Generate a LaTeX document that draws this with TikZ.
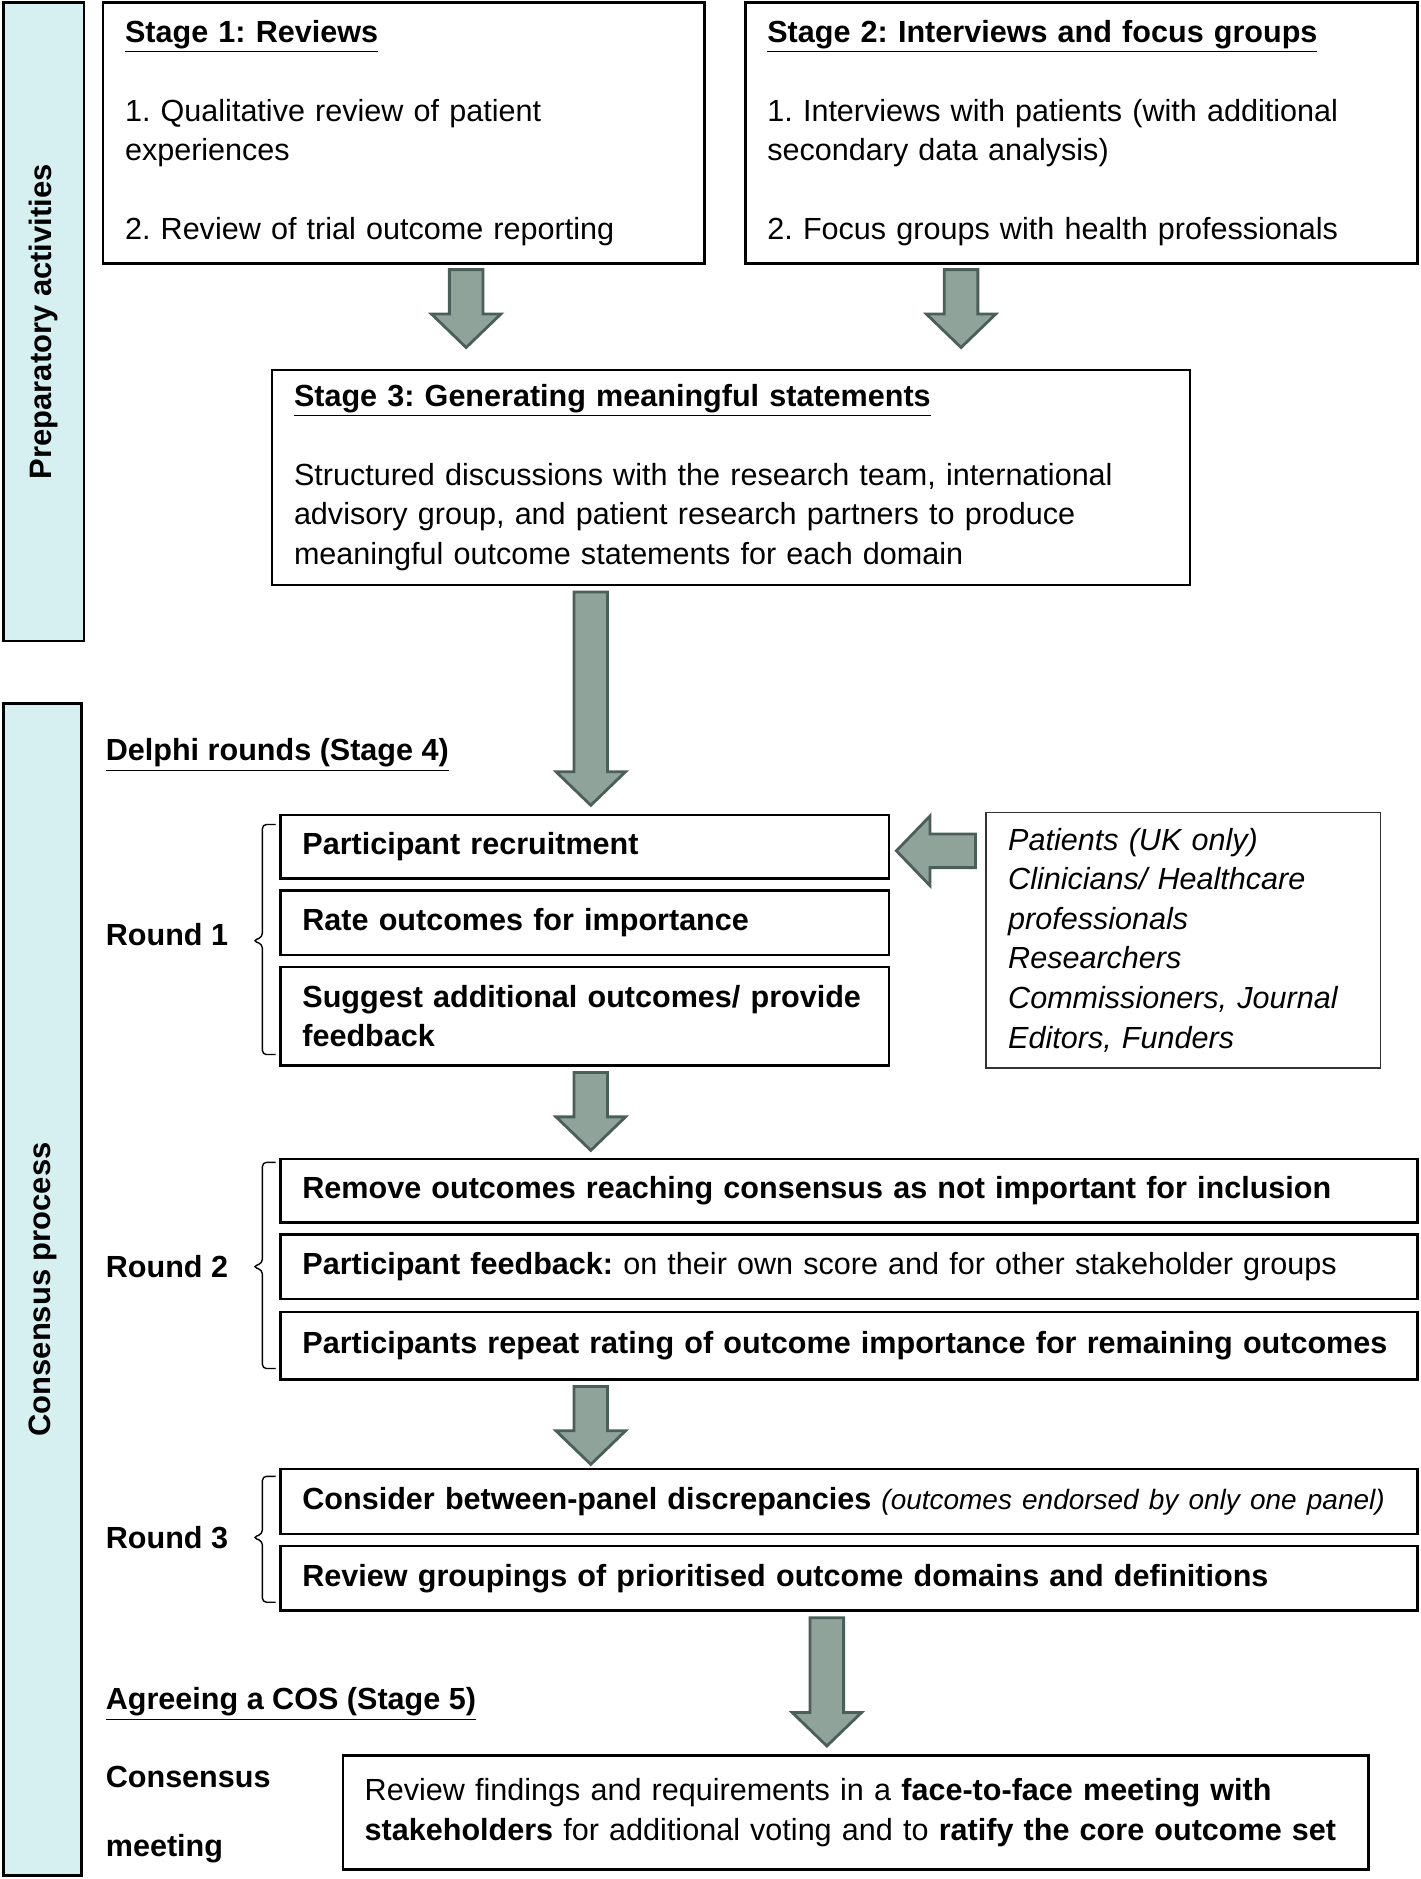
\documentclass[tikz,border=0pt]{standalone}
\usepackage{fontspec}
\setmainfont{Liberation Sans}
\usetikzlibrary{calc}
\frenchspacing
\hyphenpenalty=10000
\exhyphenpenalty=10000

\definecolor{barfill}{RGB}{214,239,240}
\definecolor{arrowfill}{RGB}{143,163,155}
\definecolor{arrowline}{RGB}{74,95,89}

\newcommand{\basefont}{\fontsize{15.3pt}{19.8pt}\selectfont}
\newcommand{\notefont}{\fontsize{14pt}{19.8pt}\selectfont}

% block arrows: tail coordinate, tip coordinate
\newcommand{\blockdown}[2]{%
	\draw[blockarrow] let \p1=(#1), \p2=(#2) in (\x1-8.4pt,\y1) -- (\x1+8.4pt,\y1) -- (\x1+8.4pt,\y2+16.8pt) -- (\x1+17.4pt,\y2+16.8pt) -- (\x2,\y2) -- (\x1-17.4pt,\y2+16.8pt) -- (\x1-8.4pt,\y2+16.8pt) -- cycle;}
\newcommand{\blockleft}[2]{%
	\draw[blockarrow] let \p1=(#1), \p2=(#2) in (\x1,\y1-8.4pt) -- (\x2+16.8pt,\y1-8.4pt) -- (\x2+16.8pt,\y1-17.4pt) -- (\x2,\y2) -- (\x2+16.8pt,\y1+17.4pt) -- (\x2+16.8pt,\y1+8.4pt) -- (\x1,\y1+8.4pt) -- cycle;}

\tikzset{
	stagebox/.style={shape=rectangle, draw, line width=1.2pt, align=left, inner xsep=11pt, inner ysep=0pt},
	groupbox/.style={shape=rectangle, draw=black!80, line width=0.8pt, align=left, inner xsep=11pt, inner ysep=0pt},
	sidebar/.style={shape=rectangle, draw, fill=barfill, line width=1.2pt, rotate=90, font=\fontsize{15.5pt}{19.8pt}\selectfont\bfseries},
	blockarrow/.style={draw=arrowline, fill=arrowfill, line width=1.4pt, line join=miter},
	roundbrace/.style={draw, line width=0.7pt, rounded corners=2pt},
	heading/.style={anchor=west, inner sep=0pt, font=\basefont\bfseries}
}

\begin{document}
\begin{tikzpicture}[x=0.6pt, y=-0.6pt, every node/.append style={font=\basefont}]
	\useasboundingbox (0,0) rectangle (1185,1568);
	% Side bars:
	\node[sidebar, minimum width=319.8pt, minimum height=40.2pt] (prep) at (36.5,268.5) {Preparatory activities};
	\node[sidebar, minimum width=586.8pt, minimum height=39pt] (cons) at (35.5,1076) {Consensus process};
	% Preparatory stages:
	\node[stagebox, minimum width=301.2pt, minimum height=130.8pt, text width=279.2pt] (s1) at (337,111) {\underline{\textbf{Stage 1: Reviews}}\\[19.8pt]1. Qualitative review of patient\\experiences\\[19.8pt]2. Review of trial outcome reporting};
	\node[stagebox, minimum width=336.6pt, minimum height=130.8pt, text width=314.6pt] (s2) at (902.5,111) {\underline{\textbf{Stage 2: Interviews and focus groups}}\\[19.8pt]1. Interviews with patients (with additional\\secondary data analysis)\\[19.8pt]2. Focus groups with health professionals};
	\node[stagebox, minimum width=459.6pt, minimum height=107.4pt, text width=437.6pt] (s3) at (610,398.5) {\underline{\textbf{Stage 3: Generating meaningful statements}}\\[19.8pt]Structured discussions with the research team, international\\advisory group, and patient research partners to produce\\meaningful outcome statements for each domain};
	\coordinate (a1t) at (389,225);
	\coordinate (a1b) at (389,290);
	\coordinate (a2t) at (802,225);
	\coordinate (a2b) at (802,290);
	\coordinate (a3t) at (493,494);
	\coordinate (a3b) at (493,672);
	\blockdown{a1t}{a1b}
	\blockdown{a2t}{a2b}
	\blockdown{a3t}{a3b}
	% Delphi rounds:
	\node[heading] (delphi) at (88,630) {\underline{Delphi rounds (Stage 4)}};
	\node[stagebox, minimum width=304.8pt, minimum height=31.8pt, text width=282.8pt] (r1a) at (488,706.5) {\textbf{Participant recruitment}};
	\node[stagebox, minimum width=304.8pt, minimum height=32.4pt, text width=282.8pt] (r1b) at (488,770) {\textbf{Rate outcomes for importance}};
	\node[stagebox, minimum width=304.8pt, minimum height=49.2pt, text width=282.8pt] (r1c) at (488,848) {\mbox{\textbf{Suggest additional outcomes/ provide}}\\\textbf{feedback}};
	\node[groupbox, minimum width=197.4pt, minimum height=127.8pt, text width=175.4pt] (stk) at (987.5,784.5) {\itshape Patients (UK only)\\Clinicians/ Healthcare\\professionals\\Researchers\\Commissioners, Journal\\Editors, Funders};
	\coordinate (aLt) at (814,710);
	\coordinate (aLb) at (748,710);
	\blockleft{aLt}{aLb}
	\node[heading] (round1) at (88,780) {Round 1};
	\draw[roundbrace] (230,688) -- (219,688) -- (219,782) -- (211,785) -- (219,788) -- (219,880) -- (230,880);
	\coordinate (a4t) at (493,895);
	\coordinate (a4b) at (493,960);
	\blockdown{a4t}{a4b}
	\node[stagebox, minimum width=569.4pt, minimum height=31.8pt, text width=547.4pt] (r2a) at (708.5,993.5) {\mbox{\textbf{Remove outcomes reaching consensus as not important for inclusion}}};
	\node[stagebox, minimum width=569.4pt, minimum height=32.4pt, text width=547.4pt] (r2b) at (708.5,1057) {\textbf{Participant feedback:} on their own score and for other stakeholder groups};
	\node[stagebox, minimum width=569.4pt, minimum height=33.6pt, text width=547.4pt] (r2c) at (708.5,1123) {\mbox{\textbf{Participants repeat rating of outcome importance for remaining outcomes}}};
	\node[heading] (round2) at (88,1057) {Round 2};
	\draw[roundbrace] (230,970) -- (219,970) -- (219,1054) -- (211,1057) -- (219,1060) -- (219,1142) -- (230,1142);
	\coordinate (a5t) at (493,1157);
	\coordinate (a5b) at (493,1222);
	\blockdown{a5t}{a5b}
	\node[stagebox, minimum width=569.4pt, minimum height=32.4pt, text width=547.4pt] (r3a) at (708.5,1253) {\mbox{\textbf{Consider between-panel discrepancies} {\notefont\itshape (outcomes endorsed by only one panel)}}};
	\node[stagebox, minimum width=569.4pt, minimum height=32.4pt, text width=547.4pt] (r3b) at (708.5,1317) {\textbf{Review groupings of prioritised outcome domains and definitions}};
	\node[heading] (round3) at (88,1283) {Round 3};
	\draw[roundbrace] (230,1232) -- (219,1232) -- (219,1280) -- (211,1283) -- (219,1286) -- (219,1337) -- (230,1337);
	\coordinate (a6t) at (690,1350);
	\coordinate (a6b) at (690,1457);
	\blockdown{a6t}{a6b}
	% Agreeing a COS:
	\node[heading] (cos) at (88,1422) {\underline{Agreeing a COS (Stage 5)}};
	\node[heading] (meet1) at (88,1483) {Consensus};
	\node[heading] (meet2) at (88,1543) {meeting};
	\node[stagebox, minimum width=513.6pt, minimum height=57pt, text width=491.6pt] (fin) at (714,1512.5) {\mbox{Review findings and requirements in a \textbf{face-to-face meeting with}}\\\mbox{\textbf{stakeholders} for additional voting and to \textbf{ratify the core outcome set}}};
\end{tikzpicture}
\end{document}
